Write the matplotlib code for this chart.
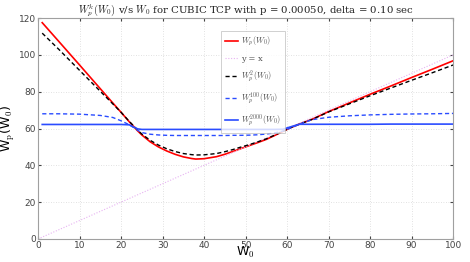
import numpy as np
import matplotlib
matplotlib.use("Agg")
import matplotlib.pyplot as plt

plt.rcParams["mathtext.fontset"] = "cm"

# W0 samples and read-off values for each curve
w0 = [1, 5, 10, 15, 18, 20, 22, 23, 24, 25, 27, 29, 31, 33, 35, 37, 38, 40, 43, 45, 47,
      49, 51, 53, 55, 57, 59, 61, 63, 66, 70, 75, 80, 85, 90, 95, 100]

wp1 = [117.5, 107.3, 94.5, 81.6, 73.9, 68.8, 63.6, 61.2, 58.7, 56.5, 52.8, 50.0, 47.8, 46.0,
       44.6, 43.7, 43.4, 43.6, 44.7, 46.0, 47.6, 49.2, 50.8, 52.4, 54.1, 56.2, 58.4, 60.6,
       62.4, 65.0, 69.2, 73.9, 78.6, 83.1, 87.7, 92.2, 96.8]

wp2 = [111.8, 103.0, 91.6, 80.2, 73.4, 68.8, 63.8, 61.5, 59.1, 57.0, 53.6, 51.0, 49.0, 47.5,
       46.4, 45.8, 45.6, 45.7, 46.4, 47.4, 48.6, 50.0, 51.3, 52.8, 54.4, 56.4, 58.5, 60.6,
       62.4, 64.9, 69.0, 73.4, 77.8, 82.0, 86.2, 90.3, 94.5]

wp100 = [68.0, 68.0, 67.8, 67.1, 66.0, 64.2, 62.0, 60.6, 59.0, 57.8, 56.9, 56.5, 56.3, 56.2,
         56.2, 56.2, 56.2, 56.2, 56.2, 56.2, 56.3, 56.3, 56.4, 56.6, 57.0, 57.6, 58.6, 60.4,
         62.4, 64.8, 66.1, 66.9, 67.4, 67.7, 67.9, 68.0, 68.2]

wp2000 = [62.2, 62.2, 62.2, 62.2, 62.2, 62.2, 62.0, 60.8, 59.8, 59.5, 59.5, 59.5, 59.5, 59.5,
          59.5, 59.5, 59.5, 59.5, 59.5, 59.5, 59.5, 59.5, 59.5, 59.5, 59.5, 59.5, 59.6, 61.0,
          62.3, 62.3, 62.3, 62.3, 62.3, 62.4, 62.4, 62.4, 62.4]

ident = [0, 100]

fig = plt.figure(figsize=(4.7, 2.62), dpi=100)
ax = fig.add_axes([0.081, 0.088, 0.883, 0.843])

ax.plot(w0, wp1, color="red", lw=1.2, label=r"$W_p(W_0)$")
ax.plot(ident, ident, color="#e7b2f2", lw=0.8, ls=(0, (1, 1.5)), label=r"y = x")
ax.plot(w0, wp2, color="black", lw=1.0, ls=(0, (3, 2)), label=r"$W_p^2(W_0)$")
ax.plot(w0, wp100, color="#2a4cff", lw=1.0, ls=(0, (3, 2)), label=r"$W_p^{100}(W_0)$")
ax.plot(w0, wp2000, color="#2a4cff", lw=1.2, label=r"$W_p^{2000}(W_0)$")

ax.set_xlim(0, 100)
ax.set_ylim(0, 120)
ax.set_xticks(range(0, 101, 10))
ax.set_yticks(range(0, 121, 20))
ax.grid(True, color="#d8d8d8", ls=(0, (1, 2)), lw=0.6)
ax.tick_params(direction="in", length=2.5, labelsize=6.5, colors="#444444",
               top=True, right=True, pad=1.5)
for s in ax.spines.values():
    s.set_color("#a0a0a0")
    s.set_linewidth(0.8)

ax.set_title(r"$W_p^k(W_0)$ v/s $W_0$ for CUBIC TCP with p = 0.00050, delta = 0.10 sec",
             fontsize=7.3, family="DejaVu Serif", pad=3, color="#222222")
ax.set_xlabel(r"W$_0$", fontsize=9, labelpad=-3.5)
ax.set_ylabel(r"W$_\mathrm{p}$(W$_0$)", fontsize=9, labelpad=1)

leg = ax.legend(loc="upper left", bbox_to_anchor=(0.43, 0.96),
                frameon=True, fancybox=False, edgecolor="#bbbbbb",
                handlelength=1.6, handletextpad=0.3, labelspacing=0.75,
                borderpad=0.5, prop={"family": "DejaVu Serif", "size": 6})
leg.get_frame().set_linewidth(0.6)
for t in leg.get_texts():
    t.set_color("#555555")

fig.savefig("out.png", dpi=100)
